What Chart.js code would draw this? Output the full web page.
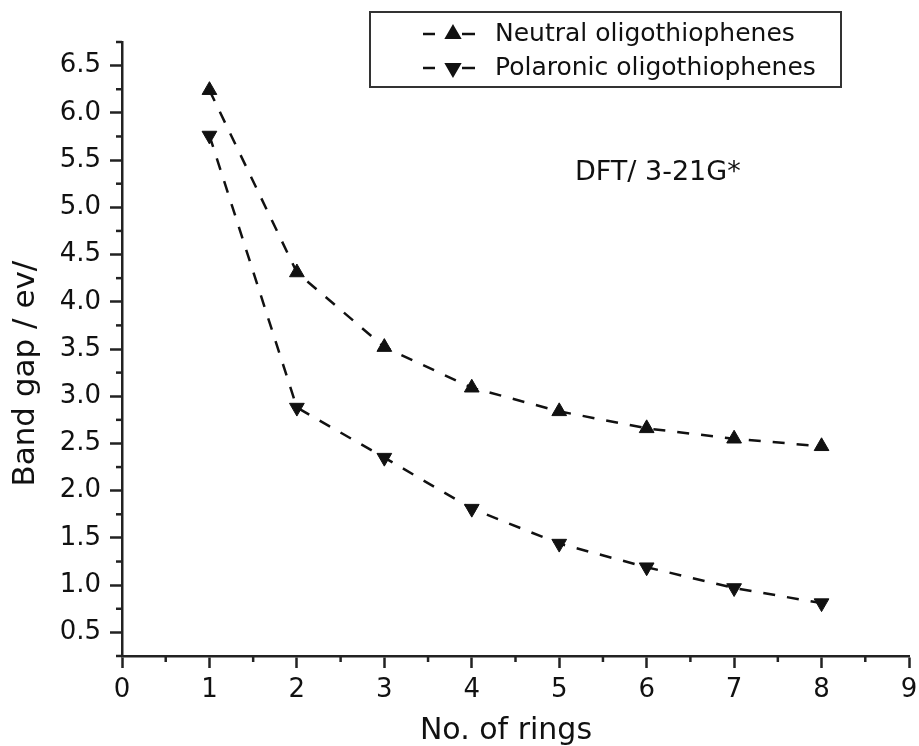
<!DOCTYPE html>
<html>
<head>
<meta charset="utf-8">
<script src="https://cdn.jsdelivr.net/npm/chart.js@4/dist/chart.umd.min.js"></script>
<style>html,body{margin:0;padding:0;background:#fff;}canvas{display:block;}</style>
</head>
<body>
<canvas id="c" width="919" height="746"></canvas>
<script>
// ---- data ----
const rings = [1, 2, 3, 4, 5, 6, 7, 8];
const neutralGap = [6.24, 4.31, 3.52, 3.09, 2.84, 2.66, 2.55, 2.47];
const polaronicGap = [5.76, 2.88, 2.35, 1.81, 1.44, 1.19, 0.97, 0.81];
const seriesNames = ['Neutral oligothiophenes', 'Polaronic oligothiophenes'];
const xTickLabels = ['0', '1', '2', '3', '4', '5', '6', '7', '8', '9'];
const yTickLabels = ['0.5', '1.0', '1.5', '2.0', '2.5', '3.0', '3.5', '4.0', '4.5', '5.0', '5.5', '6.0', '6.5'];
const xTitle = 'No. of rings';
const yTitle = 'Band gap / ev/';
const noteText = 'DFT/ 3-21G*';

// ---- styling ----
const FONT = "'DejaVu Sans', sans-serif";
const INK = '#111';
const AXIS = '#222';

function isWhole(v, step) { return Math.abs(v / step - Math.round(v / step)) < 1e-9; }

const minorTicks = {
  id: 'minorTicks',
  afterDraw(chart) {
    const ctx = chart.ctx;
    ctx.save();
    ctx.strokeStyle = AXIS;
    ctx.lineWidth = 2.5;
    const xs = chart.scales.x, ys = chart.scales.y;
    xs.ticks.forEach(t => {
      if (!isWhole(t.value, 1)) {
        const px = xs.getPixelForValue(t.value);
        ctx.beginPath(); ctx.moveTo(px, xs.top); ctx.lineTo(px, xs.top + 6); ctx.stroke();
      }
    });
    ys.ticks.forEach(t => {
      if (!isWhole(t.value, 0.5)) {
        const py = ys.getPixelForValue(t.value);
        ctx.beginPath(); ctx.moveTo(ys.right, py); ctx.lineTo(ys.right - 6, py); ctx.stroke();
      }
    });
    ctx.restore();
  }
};

const legendBox = {
  id: 'legendBox',
  afterDraw(chart) {
    const ctx = chart.ctx;
    ctx.save();
    ctx.strokeStyle = '#333';
    ctx.lineWidth = 2;
    ctx.strokeRect(370, 12, 471, 75);
    const rows = [34, 68];
    chart.data.datasets.forEach((ds, i) => {
      const y = rows[i];
      ctx.strokeStyle = ds.borderColor;
      ctx.lineWidth = 2.5;
      ctx.setLineDash([]);
      ctx.beginPath(); ctx.moveTo(423, y); ctx.lineTo(435, y); ctx.stroke();
      ctx.beginPath(); ctx.moveTo(462, y); ctx.lineTo(475, y); ctx.stroke();
      ctx.fillStyle = ds.backgroundColor;
      Chart.helpers.drawPoint(ctx, {pointStyle: 'triangle', radius: 7.5, rotation: ds.pointRotation, borderWidth: 1}, 453, y);
      ctx.fillStyle = INK;
      ctx.font = '25px ' + FONT;
      ctx.textBaseline = 'middle';
      ctx.textAlign = 'left';
      ctx.fillText(ds.label, 495, y);
    });
    ctx.fillStyle = INK;
    ctx.font = '27px ' + FONT;
    ctx.textBaseline = 'middle';
    ctx.fillText(noteText, 575, 173);
    ctx.restore();
  }
};

const tickColor = step => c => (c.tick && isWhole(c.tick.value, step)) ? AXIS : 'rgba(0,0,0,0)';

new Chart(document.getElementById('c'), {
  type: 'line',
  data: {
    datasets: [
      {
        label: seriesNames[0],
        data: rings.map((r, i) => ({x: r, y: neutralGap[i]})),
        borderColor: INK, backgroundColor: INK,
        borderWidth: 2.5, borderDash: [12, 12],
        pointStyle: 'triangle', pointRotation: 0, pointRadius: 8.5, pointBorderWidth: 1,
        fill: false, tension: 0
      },
      {
        label: seriesNames[1],
        data: rings.map((r, i) => ({x: r, y: polaronicGap[i]})),
        borderColor: INK, backgroundColor: INK,
        borderWidth: 2.5, borderDash: [12, 12],
        pointStyle: 'triangle', pointRotation: 180, pointRadius: 8.5, pointBorderWidth: 1,
        fill: false, tension: 0
      }
    ]
  },
  options: {
    responsive: false,
    animation: false,
    devicePixelRatio: 1,
    layout: {padding: {left: 0, top: 42, right: 10, bottom: 0}},
    plugins: {legend: {display: false}, tooltip: {enabled: false}},
    scales: {
      x: {
        type: 'linear', min: 0, max: 9,
        ticks: {
          stepSize: 0.5, maxTicksLimit: 100, autoSkip: false, maxRotation: 0, padding: 7,
          color: INK, font: {family: FONT, size: 26},
          callback: v => isWhole(v, 1) ? xTickLabels[Math.round(v)] : ''
        },
        grid: {drawOnChartArea: false, drawTicks: true, tickLength: 12, tickWidth: 2.5, tickColor: tickColor(1)},
        border: {display: true, color: AXIS, width: 2.5},
        title: {display: true, text: xTitle + '  ', color: INK, font: {family: FONT, size: 30, lineHeight: 1}, padding: {top: 0, bottom: 0}},
        afterFit: s => { s.height = 90; s.paddingRight = 0; s.paddingLeft = 0; }
      },
      y: {
        type: 'linear', min: 0.25, max: 6.75,
        ticks: {
          stepSize: 0.25, maxTicksLimit: 100, autoSkip: false, padding: 9,
          color: INK, font: {family: FONT, size: 26},
          callback: v => isWhole(v, 0.5) ? yTickLabels[Math.round(v * 2) - 1] : ''
        },
        grid: {drawOnChartArea: false, drawTicks: true, tickLength: 12, tickWidth: 2.5, tickColor: tickColor(0.5)},
        border: {display: true, color: AXIS, width: 2.5},
        title: {display: true, text: yTitle + '     ', color: INK, font: {family: FONT, size: 31, lineHeight: 1}, padding: {top: 10, bottom: 0}},
        afterFit: s => { s.width = 122; s.paddingTop = 0; s.paddingBottom = 0; }
      }
    }
  },
  plugins: [minorTicks, legendBox]
});
</script>
</body>
</html>
